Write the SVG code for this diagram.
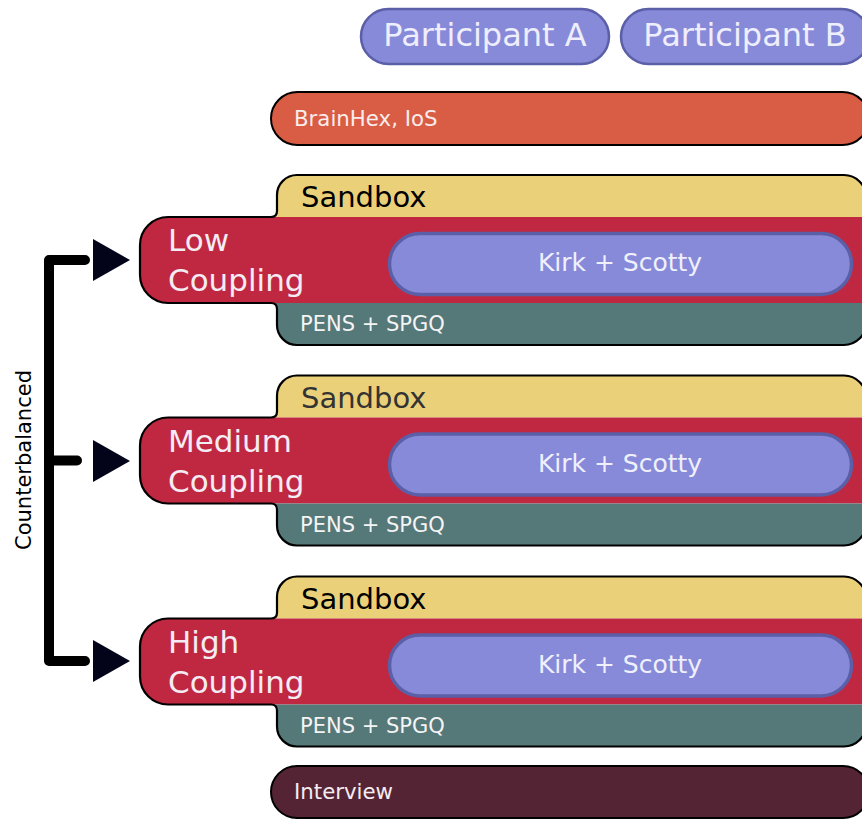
<svg xmlns="http://www.w3.org/2000/svg" width="862" height="819" viewBox="0 0 862 819">
<style>
.t{font-family:"DejaVu Sans","Liberation Sans",sans-serif}
.pill{fill:#878ad9;stroke:#5b5fa8;stroke-width:2.5}
.kirk{fill:#878ad9;stroke:#5b5fa8;stroke-width:3.5}
.outline{fill:none;stroke:#000;stroke-width:2.2}
.lt{fill:#f4ecf4}
.arrow{fill:#03031a}
</style>
<defs>
<path id="blk" d="M297,175 H844 A22,22 0 0 1 866,197 V323 A22,22 0 0 1 844,345 H297 A20,20 0 0 1 277,325 V309 Q277,303 271,303 H168 A28,28 0 0 1 140,275 V245 A28,28 0 0 1 168,217 H271 Q277,217 277,211 V195 A20,20 0 0 1 297,175 Z"/>
<clipPath id="blkclip" clipPathUnits="userSpaceOnUse"><use href="#blk"/></clipPath>
</defs>

<g id="participant-a">
<rect class="pill" x="361" y="9" width="248" height="55" rx="27.5"/>
<text class="t" x="485" y="46" font-size="32" text-anchor="middle" fill="#eeeefc">Participant A</text>
</g>
<g id="participant-b">
<rect class="pill" x="621" y="9" width="248" height="55" rx="27.5"/>
<text class="t" x="745" y="46" font-size="32" text-anchor="middle" fill="#eeeefc">Participant B</text>
</g>

<g id="brainhex">
<rect x="271" y="92" width="598" height="53" rx="26.5" fill="#d95c45" stroke="#000" stroke-width="2"/>
<text class="t" x="294" y="126" font-size="21.3" fill="#f8ecec">BrainHex, IoS</text>
</g>

<g id="low-coupling">
<g clip-path="url(#blkclip)">
<rect x="130" y="170" width="740" height="47" fill="#ead079"/>
<rect x="130" y="217" width="740" height="86" fill="#c02841"/>
<rect x="130" y="303" width="740" height="50" fill="#557879"/>
</g>
<use href="#blk" class="outline"/>
<text class="t" x="301" y="207" font-size="29" fill="#000">Sandbox</text>
<text class="t lt" x="168" y="251" font-size="31">Low</text>
<text class="t lt" x="168" y="291" font-size="31">Coupling</text>
<rect class="kirk" x="389.5" y="233.5" width="462" height="61" rx="30.5"/>
<text class="t" x="620" y="271" font-size="25" text-anchor="middle" fill="#f0f0fc">Kirk + Scotty</text>
<text class="t" x="300" y="331" font-size="21" fill="#f4f4f4">PENS + SPGQ</text>
</g>

<g id="medium-coupling" transform="translate(0,200.5)">
<g clip-path="url(#blkclip)">
<rect x="130" y="170" width="740" height="47" fill="#ead079"/>
<rect x="130" y="217" width="740" height="86" fill="#c02841"/>
<rect x="130" y="303" width="740" height="50" fill="#557879"/>
</g>
<use href="#blk" class="outline"/>
<text class="t" x="301" y="207" font-size="29" fill="#333">Sandbox</text>
<text class="t lt" x="168" y="251" font-size="31">Medium</text>
<text class="t lt" x="168" y="291" font-size="31">Coupling</text>
<rect class="kirk" x="389.5" y="233.5" width="462" height="61" rx="30.5"/>
<text class="t" x="620" y="271" font-size="25" text-anchor="middle" fill="#f0f0fc">Kirk + Scotty</text>
<text class="t" x="300" y="331" font-size="21" fill="#f4f4f4">PENS + SPGQ</text>
</g>

<g id="high-coupling" transform="translate(0,401.5)">
<g clip-path="url(#blkclip)">
<rect x="130" y="170" width="740" height="47" fill="#ead079"/>
<rect x="130" y="217" width="740" height="86" fill="#c02841"/>
<rect x="130" y="303" width="740" height="50" fill="#557879"/>
</g>
<use href="#blk" class="outline"/>
<text class="t" x="301" y="207" font-size="29" fill="#000">Sandbox</text>
<text class="t lt" x="168" y="251" font-size="31">High</text>
<text class="t lt" x="168" y="291" font-size="31">Coupling</text>
<rect class="kirk" x="389.5" y="233.5" width="462" height="61" rx="30.5"/>
<text class="t" x="620" y="271" font-size="25" text-anchor="middle" fill="#f0f0fc">Kirk + Scotty</text>
<text class="t" x="300" y="331" font-size="21" fill="#f4f4f4">PENS + SPGQ</text>
</g>

<g id="interview">
<rect x="271" y="766" width="598" height="52" rx="26" fill="#542434" stroke="#000" stroke-width="2"/>
<text class="t" x="294" y="799" font-size="21.3" fill="#f4ecf0">Interview</text>
</g>

<g id="connectors">
<path d="M85,260 H49 V661 H85 M49,460.5 H77" fill="none" stroke="#000" stroke-width="10" stroke-linecap="round" stroke-linejoin="round"/>
<polygon class="arrow" points="93,239 93,281 130,260"/>
<polygon class="arrow" points="93,440 93,482 130,461"/>
<polygon class="arrow" points="93,640 93,682 130,661"/>
<text class="t" x="31" y="460" font-size="21" text-anchor="middle" fill="#000" transform="rotate(-90 31 460)">Counterbalanced</text>
</g>
</svg>
